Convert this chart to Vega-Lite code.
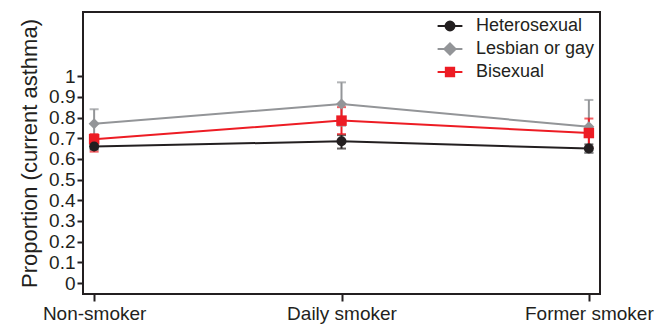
{
  "$schema": "https://vega.github.io/schema/vega-lite/v6.json",
  "width": 517,
  "height": 282,
  "autosize": {"type": "none"},
  "padding": {"left": 83, "top": 12, "right": 66, "bottom": 34},
  "background": "white",
  "config": {
    "font": "Liberation Sans",
    "view": {"stroke": "#231f20", "strokeWidth": 2},
    "axis": {"grid": false, "domain": false, "tickColor": "#231f20", "tickWidth": 2, "labelColor": "#231f20", "titleColor": "#231f20"},
    "axisY": {"labelFontSize": 19, "labelOverlap": false, "tickSize": 6, "labelPadding": 2, "titleFontSize": 22, "titleFontWeight": "normal", "titlePadding": 7}
  },
  "data": {
    "values": [
      {"smoke": "Non-smoker", "group": "Heterosexual", "p": 0.66, "lo": 0.645, "hi": 0.675},
      {"smoke": "Daily smoker", "group": "Heterosexual", "p": 0.685, "lo": 0.65, "hi": 0.715},
      {"smoke": "Former smoker", "group": "Heterosexual", "p": 0.65, "lo": 0.63, "hi": 0.67},
      {"smoke": "Non-smoker", "group": "Lesbian or gay", "p": 0.77, "lo": 0.70, "hi": 0.84},
      {"smoke": "Daily smoker", "group": "Lesbian or gay", "p": 0.865, "lo": 0.76, "hi": 0.97},
      {"smoke": "Former smoker", "group": "Lesbian or gay", "p": 0.755, "lo": 0.63, "hi": 0.885},
      {"smoke": "Non-smoker", "group": "Bisexual", "p": 0.695, "lo": 0.635, "hi": 0.72},
      {"smoke": "Daily smoker", "group": "Bisexual", "p": 0.785, "lo": 0.72, "hi": 0.85},
      {"smoke": "Former smoker", "group": "Bisexual", "p": 0.725, "lo": 0.655, "hi": 0.795}
    ]
  },
  "encoding": {
    "x": {
      "field": "smoke", "type": "ordinal",
      "sort": ["Non-smoker", "Daily smoker", "Former smoker"],
      "scale": {"type": "point", "padding": 0.045},
      "axis": {"title": null, "labelAngle": 0, "labelFontSize": 19, "tickSize": 7, "labelPadding": 3, "offset": 0}
    },
    "color": {
      "field": "group", "type": "nominal",
      "scale": {"domain": ["Heterosexual", "Lesbian or gay", "Bisexual"], "range": ["#231f20", "#939598", "#ed1c24"]},
      "legend": {
        "title": null, "orient": "top-right", "offset": 5,
        "labelFontSize": 18, "labelColor": "#231f20", "symbolSize": 256, "rowPadding": 4, "labelOffset": 17,
        "symbolStrokeWidth": 2,
        "encode": {
          "symbols": {
            "update": {
              "shape": {"signal": "datum.value === 'Heterosexual' ? 'M-1.55,0H1.55M0.56,0A0.56,0.56 0 1,1 -0.56,0A0.56,0.56 0 1,1 0.56,0Z' : datum.value === 'Bisexual' ? 'M-1.55,0H1.55M-0.52,-0.52H0.52V0.52H-0.52Z' : 'M-1.55,0H1.55M0,-0.7L0.7,0L0,0.7L-0.7,0Z'"},
              "fill": {"signal": "datum.value === 'Heterosexual' ? '#231f20' : datum.value === 'Bisexual' ? '#ed1c24' : '#939598'"},
              "stroke": {"signal": "datum.value === 'Heterosexual' ? '#231f20' : datum.value === 'Bisexual' ? '#ed1c24' : '#939598'"},
              "strokeWidth": {"value": 2},
              "opacity": {"value": 1},
              "fillOpacity": {"value": 1},
              "strokeOpacity": {"value": 1}
            }
          }
        }
      }
    }
  },
  "layer": [
    {
      "mark": {"type": "rule", "strokeWidth": 2},
      "encoding": {
        "y": {
          "field": "lo", "type": "quantitative",
          "scale": {"domain": [-0.053, 1.31], "nice": false, "zero": false},
          "axis": {"title": "Proportion (current asthma)", "values": [0, 0.1, 0.2, 0.3, 0.4, 0.5, 0.6, 0.7, 0.8, 0.9, 1], "format": "~g", "labelOverlap": false}
        },
        "y2": {"field": "hi"}
      }
    },
    {
      "mark": {"type": "tick", "orient": "horizontal", "thickness": 2, "size": 9},
      "encoding": {"y": {"field": "hi", "type": "quantitative", "axis": {"title": "Proportion (current asthma)", "values": [0, 0.1, 0.2, 0.3, 0.4, 0.5, 0.6, 0.7, 0.8, 0.9, 1], "format": "~g", "labelOverlap": false}}}
    },
    {
      "mark": {"type": "tick", "orient": "horizontal", "thickness": 2, "size": 9},
      "encoding": {"y": {"field": "lo", "type": "quantitative", "axis": {"title": "Proportion (current asthma)", "values": [0, 0.1, 0.2, 0.3, 0.4, 0.5, 0.6, 0.7, 0.8, 0.9, 1], "format": "~g", "labelOverlap": false}}}
    },
    {
      "mark": {"type": "line", "strokeWidth": 2},
      "encoding": {
        "y": {"field": "p", "type": "quantitative", "axis": {"title": "Proportion (current asthma)", "values": [0, 0.1, 0.2, 0.3, 0.4, 0.5, 0.6, 0.7, 0.8, 0.9, 1], "format": "~g", "labelOverlap": false}},
        "detail": {"field": "group"}
      }
    },
    {
      "transform": [{"filter": "datum.group === 'Lesbian or gay'"}],
      "mark": {"type": "point", "filled": true, "opacity": 1, "size": 120, "shape": "diamond"},
      "encoding": {"y": {"field": "p", "type": "quantitative", "axis": {"title": "Proportion (current asthma)", "values": [0, 0.1, 0.2, 0.3, 0.4, 0.5, 0.6, 0.7, 0.8, 0.9, 1], "format": "~g", "labelOverlap": false}}}
    },
    {
      "transform": [{"filter": "datum.group === 'Bisexual'"}],
      "mark": {"type": "point", "filled": true, "opacity": 1, "size": 110, "shape": "square"},
      "encoding": {"y": {"field": "p", "type": "quantitative", "axis": {"title": "Proportion (current asthma)", "values": [0, 0.1, 0.2, 0.3, 0.4, 0.5, 0.6, 0.7, 0.8, 0.9, 1], "format": "~g", "labelOverlap": false}}}
    },
    {
      "transform": [{"filter": "datum.group === 'Heterosexual'"}],
      "mark": {"type": "point", "filled": true, "opacity": 1, "size": 100, "shape": "circle"},
      "encoding": {"y": {"field": "p", "type": "quantitative", "axis": {"title": "Proportion (current asthma)", "values": [0, 0.1, 0.2, 0.3, 0.4, 0.5, 0.6, 0.7, 0.8, 0.9, 1], "format": "~g", "labelOverlap": false}}}
    }
  ]
}
